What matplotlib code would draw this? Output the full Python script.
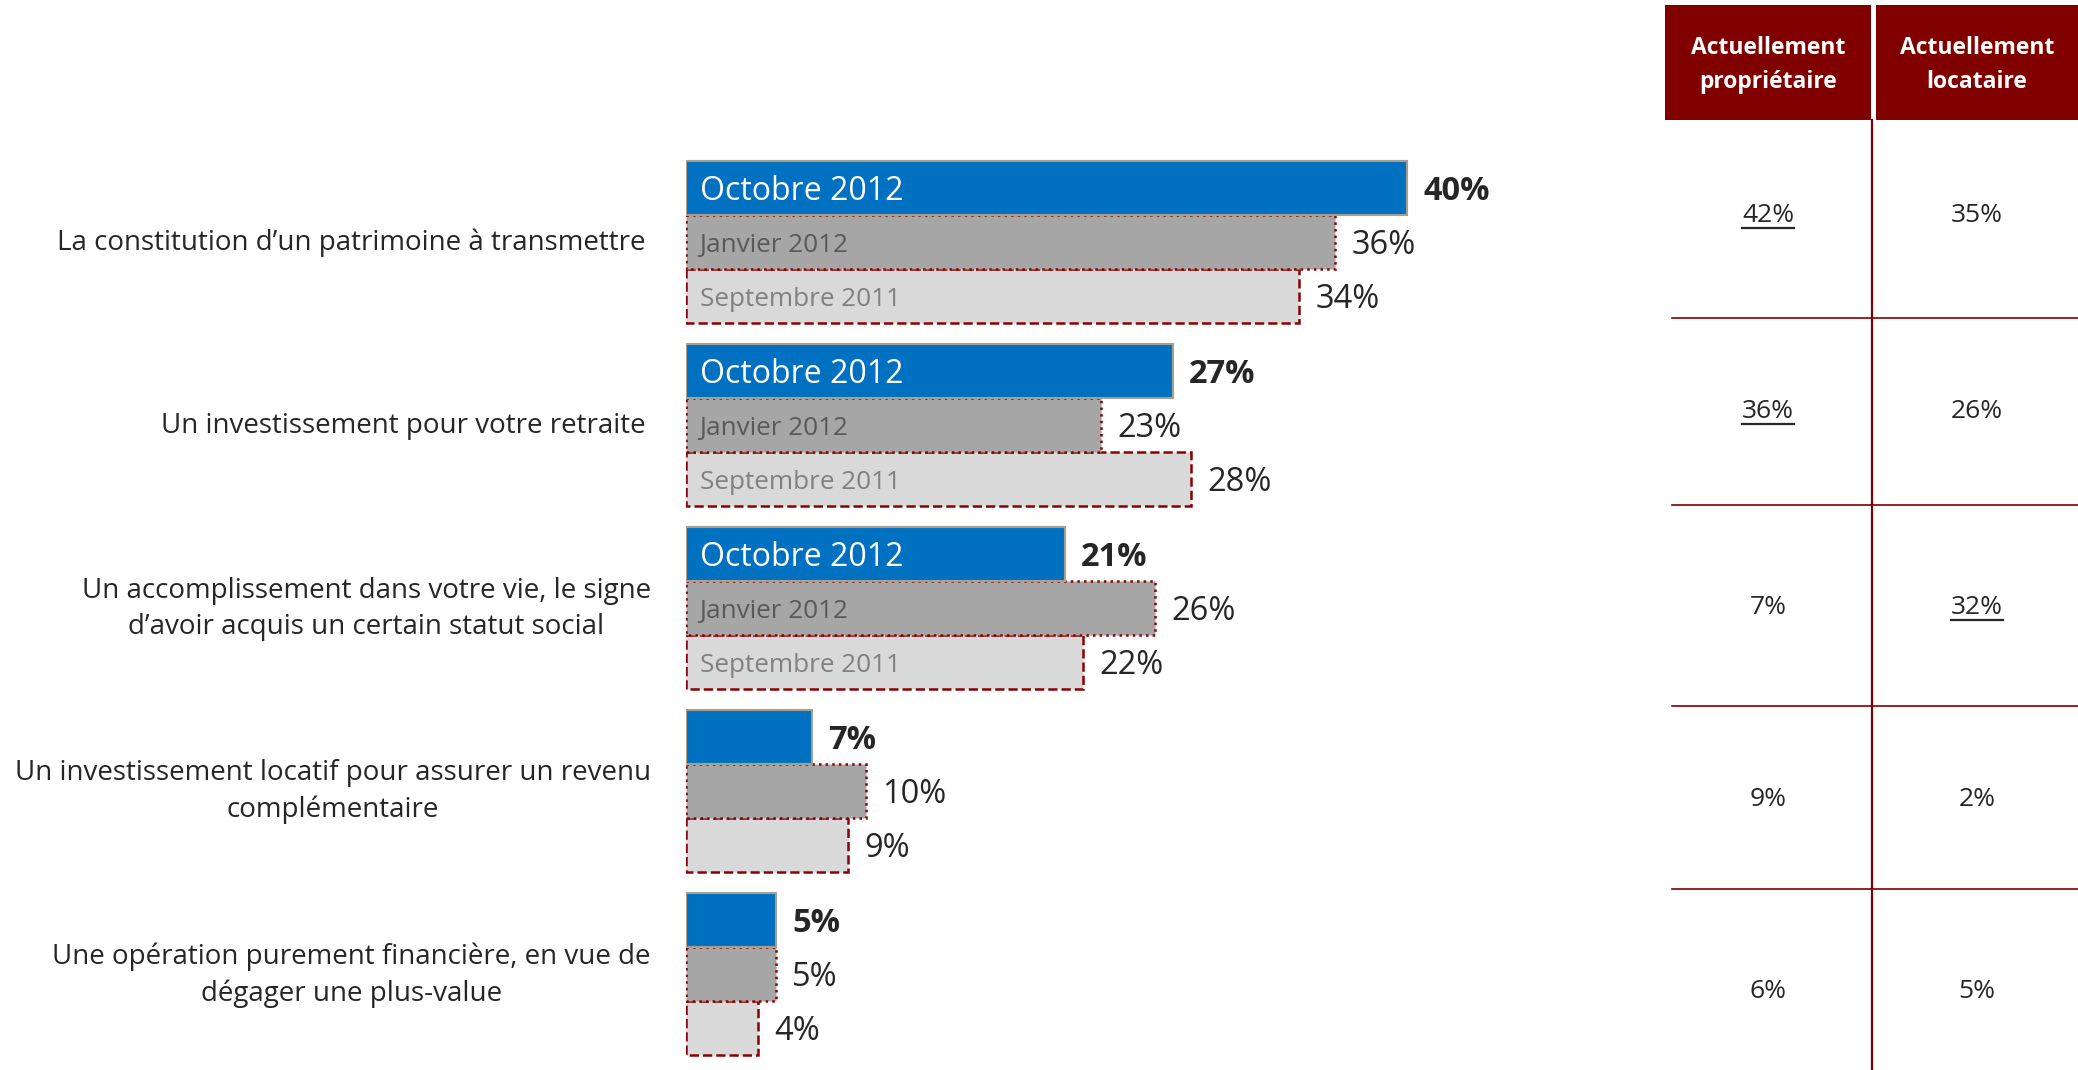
import matplotlib
matplotlib.use("Agg")
import matplotlib.pyplot as plt
from matplotlib.patches import Rectangle
from matplotlib.lines import Line2D

plt.rcParams['font.family'] = ['Open Sans', 'DejaVu Sans']

categories = [
    "La constitution d\u2019un patrimoine à transmettre",
    "Un investissement pour votre retraite",
    "Un accomplissement dans votre vie, le signe\nd\u2019avoir acquis un certain statut social",
    "Un investissement locatif pour assurer un revenu\ncomplémentaire",
    "Une opération purement financière, en vue de\ndégager une plus-value",
]
periods = ["Octobre 2012", "Janvier 2012", "Septembre 2011"]
oct_2012 = [40, 27, 21, 7, 5]
jan_2012 = [36, 23, 26, 10, 5]
sep_2011 = [34, 28, 22, 9, 4]

table_headers = ["Actuellement\npropriétaire", "Actuellement\nlocataire"]
proprietaire = [42, 36, 7, 9, 6]
locataire = [35, 26, 32, 2, 5]
# cells that are significantly higher than the other column
underlined = [(0, 0), (1, 0), (2, 1)]

W, H = 2078, 1070
fig = plt.figure(figsize=(W / 100, H / 100), dpi=100)

# bar area
ax = fig.add_axes([686 / W, 0, 974 / W, 1])
ax.set_xlim(0, 974 / 18.03)
ax.set_ylim(4.525, -1.322)
ax.axis('off')

bh = 0.295
dy = 0.02  # nudge text down so it sits in the middle of the bars
series = [oct_2012, jan_2012, sep_2011]
fills = ['#0070C0', '#A6A6A6', '#D9D9D9']
edges = ['#A89F8C', '#8B0000', '#8B0000']
styles = ['-', ':', '--']
widths = [1.5, 1.8, 1.8]
label_colors = ['white', '#595959', '#808080']
label_sizes = [23, 18.8, 18.8]

for k, vals in enumerate(series):
    ypos = [i + (k - 1) * bh for i in range(len(vals))]
    ax.barh(ypos, vals, height=bh, color=fills[k], edgecolor=edges[k],
            linestyle=styles[k], linewidth=widths[k], zorder=3 - k * 0.1)
    for i, (y, v) in enumerate(zip(ypos, vals)):
        ax.text(v + 0.9, y + dy, f"{v}%", va='center', ha='left', fontsize=23.5,
                color='#262626', fontweight='bold' if k == 0 else 'normal')
        if i < 3:
            ax.text(0.75, y + dy, periods[k], va='center', ha='left',
                    fontsize=label_sizes[k], color=label_colors[k], zorder=5)

for i, cat in enumerate(categories):
    xl = -1.95 if "\n" in cat else -2.25
    ax.text(xl, i + 0.005, cat, ha='right', va='center', multialignment='center',
            fontsize=20, color='#262626', linespacing=1.4)

# side table, drawn in pixel coordinates
tx = fig.add_axes([0, 0, 1, 1])
tx.set_xlim(0, W)
tx.set_ylim(H, 0)
tx.axis('off')

red = '#800000'
col_spans = [(1665, 1871), (1876, 2078)]
for (x0, x1), head in zip(col_spans, table_headers):
    tx.add_patch(Rectangle((x0, 5), x1 - x0, 115, color=red, lw=0))
    tx.text((x0 + x1) / 2, 65, head, ha='center', va='center',
            fontsize=16.5, fontweight='bold', color='white', linespacing=1.5)

tx.add_line(Line2D([1872, 1872], [120, H], color=red, lw=1.6))
for yl in [318, 505, 706, 889]:
    tx.add_line(Line2D([1672, W], [yl, yl], color=red, lw=1.2))

row_y = [216, 412, 608, 800, 991]
cells = []
for r, y in enumerate(row_y):
    for c, vals in enumerate([proprietaire, locataire]):
        xc = (col_spans[c][0] + col_spans[c][1]) / 2
        t = tx.text(xc, y, f"{vals[r]}%", ha='center', va='center',
                    fontsize=19, color='#262626')
        cells.append(((r, c), t))

fig.canvas.draw()
inv = tx.transData.inverted()
for (r, c), t in cells:
    if (r, c) in underlined:
        bb = t.get_window_extent()
        (xa, ya), (xb, yb) = inv.transform([(bb.x0, bb.y0), (bb.x1, bb.y1)])
        tx.add_line(Line2D([xa, xb], [ya - 1, ya - 1], color='#262626', lw=1.6))

fig.savefig("out.png", dpi=100)
